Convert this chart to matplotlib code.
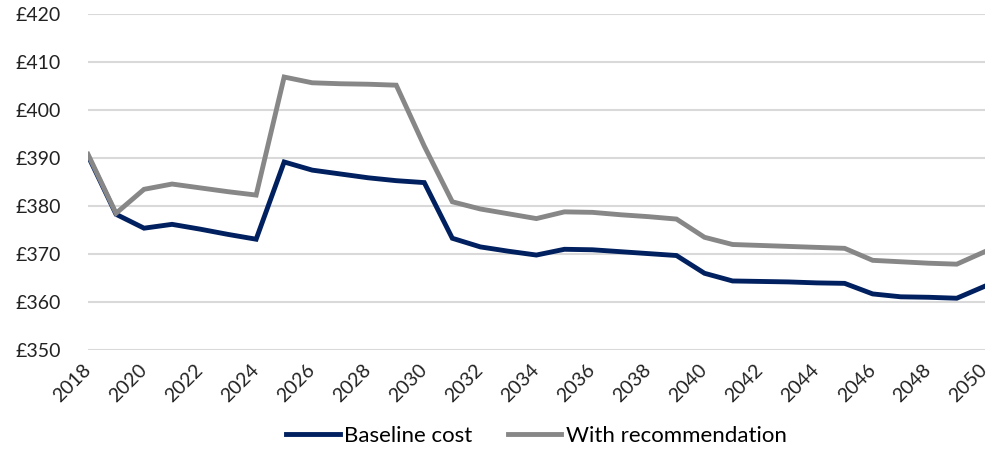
import matplotlib.pyplot as plt

plt.rcParams['font.family'] = ['Lato', 'DejaVu Sans']

years = list(range(2018, 2051))
baseline = [390.5, 378.3, 375.4, 376.2, 375.2, 374.1, 373.1, 389.2, 387.5, 386.7,
            385.9, 385.3, 384.9, 373.3, 371.5, 370.6, 369.8, 371.0, 370.9, 370.5,
            370.1, 369.7, 366.0, 364.4, 364.3, 364.2, 364.0, 363.9, 361.7, 361.1,
            361.0, 360.8, 363.3]
with_rec = [390.8, 378.5, 383.5, 384.6, 383.8, 383.0, 382.3, 406.9, 405.7, 405.5,
            405.4, 405.2, 392.5, 380.9, 379.4, 378.4, 377.4, 378.8, 378.7, 378.2,
            377.8, 377.3, 373.5, 372.0, 371.8, 371.6, 371.4, 371.2, 368.7, 368.4,
            368.1, 367.9, 370.5]
yticks = list(range(350, 421, 10))

fig = plt.figure(figsize=(9.92, 4.57), dpi=100)
ax = fig.add_axes([0.0887, 0.234, 0.904, 0.735])

ax.plot(years, baseline, color='#002060', lw=3.5, label='Baseline cost', solid_joinstyle='miter')
ax.plot(years, with_rec, color='#878787', lw=3.5, label='With recommendation', solid_joinstyle='miter')

ax.set_xlim(2018, 2050)
ax.set_ylim(350, 420)
ax.set_yticks(yticks)
ax.set_yticklabels(['£' + str(v) for v in yticks])
ax.set_xticks(years[::2])
ax.set_xticklabels([str(y) for y in years[::2]], rotation=45, ha='right', va='center',
                   rotation_mode='anchor')
ax.grid(axis='y', color='#d9d9d9', lw=1.5)
ax.set_axisbelow(True)
for s in ax.spines.values():
    s.set_visible(False)
ax.tick_params(length=0, labelsize=14, colors='#222222')
ax.tick_params(axis='y', pad=52)
ax.tick_params(axis='x', pad=12)
for lab in ax.get_yticklabels():
    lab.set_horizontalalignment('left')

ax.legend(loc='lower center', bbox_to_anchor=(0.5, -0.345), ncol=2, frameon=False,
          fontsize=16, handlelength=2.4, columnspacing=1.6, handletextpad=0.2)

fig.savefig('out.png', dpi=100)
